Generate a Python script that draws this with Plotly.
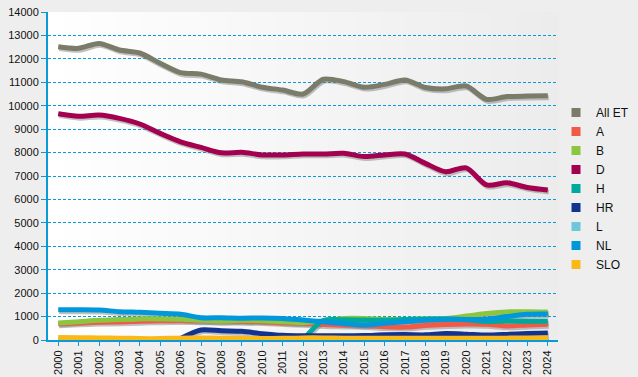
import plotly.graph_objects as go

years = list(range(2000, 2025))
year_labels = [str(y) for y in years]

series_names = ["All ET", "A", "B", "D", "H", "HR", "L", "NL", "SLO"]

all_et = [12520, 12450, 12660, 12380, 12250, 11810, 11410, 11350, 11100, 11020, 10790, 10670, 10500,
          11130, 11030, 10790, 10910, 11100, 10780, 10720, 10840, 10270, 10390, 10410, 10420]
a_vals = [690, 730, 760, 770, 800, 820, 830, 820, 810, 800, 780, 740, 710,
          660, 640, 620, 570, 550, 620, 660, 680, 670, 600, 640, 670]
b_vals = [725, 780, 840, 870, 900, 900, 890, 840, 810, 840, 820, 780, 740,
          820, 920, 920, 880, 880, 900, 920, 1020, 1130, 1200, 1210, 1200]
d_vals = [9660, 9550, 9600, 9460, 9220, 8820, 8460, 8220, 7990, 8010, 7900, 7900, 7940,
          7940, 7970, 7830, 7900, 7940, 7540, 7180, 7350, 6620, 6710, 6510, 6400]
h_vals = [None] * 12 + [0, 830, 860, 850, 840, 870, 890, 900, 860, 790, 810, 800, 800]
hr_vals = [None] * 6 + [60, 430, 390, 370, 270, 200, 180,
                        180, 180, 190, 220, 230, 220, 280, 250, 210, 240, 280, 300]
l_vals = [20, 20, 20, 20, 20, 20, 20, 20, 20, 20, 20, 20, 20,
          20, 20, 20, 20, 20, 20, 20, 20, 20, 20, 20, 20]
nl_vals = [1290, 1290, 1280, 1210, 1180, 1140, 1100, 950, 950, 930, 940, 920, 850,
           780, 700, 640, 710, 780, 850, 890, 880, 890, 1000, 1100, 1110]
slo_vals = [110, 100, 90, 80, 60, 60, 80, 90, 80, 70, 60, 70, 90,
            90, 80, 80, 80, 80, 80, 80, 80, 80, 80, 90, 100]

colors = ["#7b7b6a", "#f05a46", "#8cc63f", "#a3004f", "#00a99d", "#123490", "#6ec6db", "#0098db", "#fbb917"]
data = [all_et, a_vals, b_vals, d_vals, h_vals, hr_vals, l_vals, nl_vals, slo_vals]

fig = go.Figure()

# plot-area background gradient (strips drawn below the gridlines)
n_strips = 60
shapes = []
for i in range(n_strips):
    t = i / (n_strips - 1)
    c = round(255 - t * (255 - 236))
    shapes.append(dict(type="rect", xref="x domain", yref="y domain",
                       x0=i / n_strips, x1=(i + 1) / n_strips + 0.002, y0=0, y1=1,
                       fillcolor=f"rgb({c},{c},{c})", line=dict(width=0), layer="below"))

# shadows
for vals in data:
    sh = [None if v is None else v - 80 for v in vals]
    fig.add_trace(go.Scatter(x=[y + 0.05 for y in years], y=sh, mode="lines",
                             line=dict(color="rgba(120,120,120,0.45)", width=5, shape="spline", smoothing=0.8),
                             hoverinfo="skip", showlegend=False))

for name, vals, c in zip(series_names, data, colors):
    fig.add_trace(go.Scatter(x=years, y=vals, mode="lines", name=name,
                             line=dict(color=c, width=5, shape="spline", smoothing=0.8),
                             showlegend=False))

for name, c in zip(series_names, colors):
    fig.add_trace(go.Scatter(x=[None], y=[None], mode="markers", name=name,
                             marker=dict(symbol="square", size=9, color=c), showlegend=True))

axis_blue = "#0a9ad9"
fig.update_layout(
    width=638, height=377,
    margin=dict(l=48, r=80, t=12, b=37, autoexpand=False),
    paper_bgcolor="#eeeeee", plot_bgcolor="#eeeeee",
    shapes=shapes,
    font=dict(family="Liberation Sans, Arial, sans-serif", size=11, color="#111111"),
    legend=dict(xref="container", yref="container", x=0.8715, xanchor="left",
                y=0.500, yanchor="middle",
                bgcolor="rgba(0,0,0,0)", font=dict(size=12), itemwidth=30),
    xaxis=dict(range=[1999.5, 2024.5], tickvals=years, ticktext=year_labels, tickangle=-90,
               showgrid=False, zeroline=False, showline=True, linecolor=axis_blue, linewidth=2,
               ticks="outside", ticklen=4, tickcolor=axis_blue, tickwidth=1, automargin=False),
    yaxis=dict(range=[0, 14000], dtick=1000, tick0=0, tickformat="d", showgrid=True, gridcolor=axis_blue,
               griddash="3px,2px", gridwidth=1, zeroline=False, showline=True,
               linecolor=axis_blue, linewidth=2, ticks="outside", ticklen=5,
               tickcolor=axis_blue, tickwidth=1, automargin=False),
)

fig.write_html("out.html", config={"displayModeBar": False},
               post_script="document.body.style.margin='0';document.body.style.background='#eeeeee';")
